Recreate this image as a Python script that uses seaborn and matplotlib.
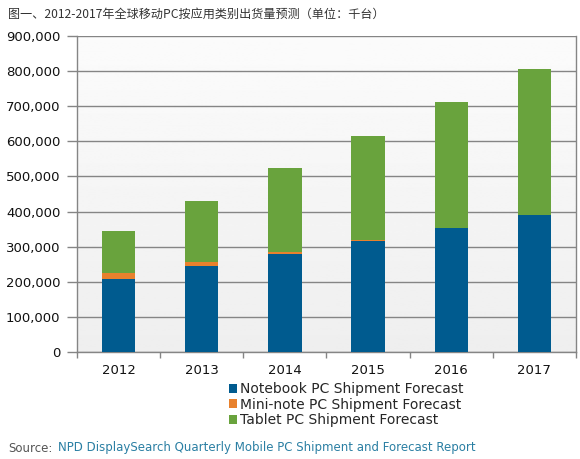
import numpy as np
import pandas as pd
import matplotlib
matplotlib.use("Agg")
import matplotlib.pyplot as plt
from matplotlib.patches import Patch
import seaborn as sns

# data (thousand units)
years = ["2012", "2013", "2014", "2015", "2016", "2017"]
notebook = [208000, 245000, 278000, 315000, 353000, 389000]
mininote = [17000, 12000, 7000, 3000, 1500, 1000]
tablet = [120000, 173000, 239000, 297000, 357500, 416000]

labels = ["Notebook PC Shipment Forecast",
          "Mini-note PC Shipment Forecast",
          "Tablet PC Shipment Forecast"]
colors = ["#005b8f", "#e8812d", "#69a33d"]

df = pd.DataFrame({"Year": years, "Notebook": notebook,
                   "Mini": mininote, "Tablet": tablet})
df["nb_mini"] = df["Notebook"] + df["Mini"]
df["total"] = df["nb_mini"] + df["Tablet"]

sns.set_style("white")
plt.rcParams["font.family"] = ["DejaVu Sans"]

fig = plt.figure(figsize=(5.8, 4.59), dpi=100)
ax = fig.add_axes([77 / 580, 1 - 352 / 459, 499 / 580, 316 / 459])

# light vertical gradient background
grad = np.linspace(0.985, 0.935, 256).reshape(-1, 1)
ax.imshow(grad, cmap="gray", vmin=0, vmax=1, aspect="auto",
          extent=[-0.5, 5.5, 0, 900000], zorder=0, origin="upper")

# stacked bars: draw cumulative totals largest first
for col, c in [("total", colors[2]), ("nb_mini", colors[1]), ("Notebook", colors[0])]:
    sns.barplot(data=df, x="Year", y=col, color=c, width=0.4,
                saturation=1, ax=ax, zorder=3, linewidth=0)

ax.set_xlim(-0.5, 5.5)
ax.set_ylim(0, 900000)
ax.set_yticks(np.arange(0, 900001, 100000))
ax.set_yticklabels([f"{v:,}" for v in range(0, 900001, 100000)])
ax.set_xticks(np.arange(6))
ax.set_xticklabels(years)
ax.set_xlabel("")
ax.set_ylabel("")

ax.yaxis.grid(True, color="#858585", linewidth=1, zorder=1)
ax.set_axisbelow(True)
for s in ["left", "bottom", "right"]:
    ax.spines[s].set_color("#858585")
    ax.spines[s].set_linewidth(1)
ax.spines["top"].set_visible(False)

ax.tick_params(axis="y", length=7, width=1, color="#858585", pad=5,
               labelsize=9.5, labelcolor="#111111", left=True)
ax.tick_params(axis="x", length=0, pad=9, labelsize=9.5, labelcolor="#111111")
# small ticks at category boundaries
ax.set_xticks(np.arange(-0.5, 6, 1), minor=True)
ax.tick_params(axis="x", which="minor", length=4, width=1, color="#858585", bottom=True)

handles = [Patch(facecolor=c, edgecolor="none") for c in colors]
fig.legend(handles, labels, loc="upper left", bbox_to_anchor=(229 / 580, 1 - 382 / 459),
           frameon=False, handlelength=0.6, handleheight=0.6, handletextpad=0.2,
           labelspacing=0.12, fontsize=10, borderaxespad=0, borderpad=0)

fig.text(8 / 580, 1 - 14 / 459,
         "图一、2012-2017年全球移动PC按应用类别出货量预测（单位：千台）",
         family=["Noto Sans CJK SC", "DejaVu Sans"], fontsize=8.7, color="#333333",
         va="center", ha="left")

fig.text(8 / 580, 1 - 448 / 459, "Source:", fontsize=8.5, color="#555555",
         va="center", ha="left")
fig.text(58 / 580, 1 - 448 / 459,
         "NPD DisplaySearch Quarterly Mobile PC Shipment and Forecast Report",
         fontsize=8.5, color="#2a7fa3", va="center", ha="left")

fig.savefig("out.png", dpi=100)
